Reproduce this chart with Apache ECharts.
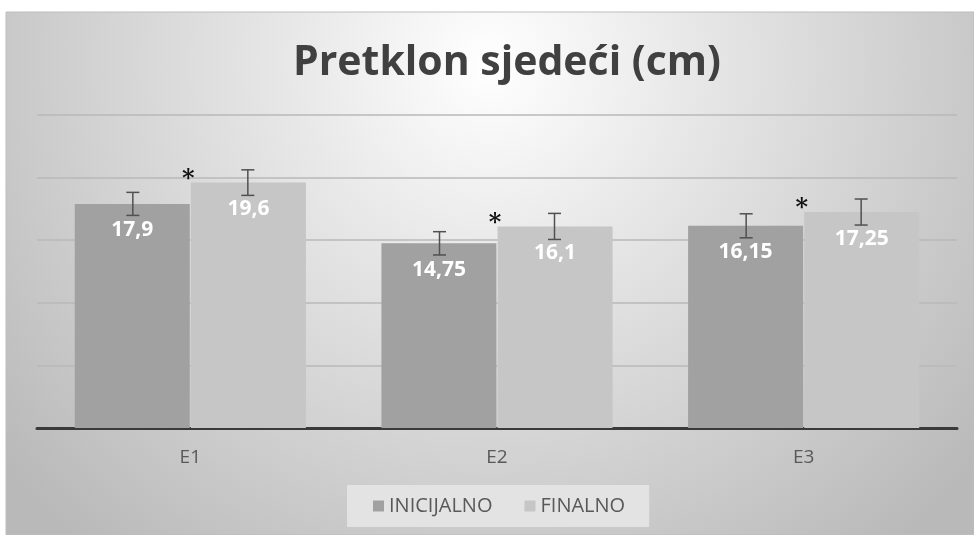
<!DOCTYPE html>
<html>
<head>
<meta charset="utf-8">
<script src="https://cdn.jsdelivr.net/npm/echarts@6/dist/echarts.min.js"></script>
<style>
html,body{margin:0;padding:0;background:#fff;}
#c{width:974px;height:535px;}
</style>
</head>
<body>
<div id="c"></div>
<script>
const titleText = 'Pretklon sjedeći (cm)';
const categories = ['E1', 'E2', 'E3'];
const seriesNames = ['INICIJALNO', 'FINALNO'];
const inicijalno = [17.9, 14.75, 16.15];
const finalno = [19.6, 16.1, 17.25];
const sdInicijalno = [0.92, 0.93, 0.96];
const sdFinalno = [1.02, 1.04, 1.04];
const significantFinal = [true, true, true];
const yTicks = [0, 5, 10, 15, 20, 25];

const chart = echarts.init(document.getElementById('c'));
const fontFam = '"Open Sans", "Noto Sans", sans-serif';

function errData(vals, sds, side, stars) {
  return vals.map((v, i) => [i, v, sds[i], side, stars ? (stars[i] ? 1 : 0) : 0]);
}

function renderErr(params, api) {
  const idx = api.value(0);
  const val = api.value(1);
  const sd = api.value(2);
  const side = api.value(3);
  const star = api.value(4);
  const band = api.size([1, 0])[0];
  const c = api.coord([idx, val]);
  const x = c[0] + side * band * 0.1875;
  const yTop = api.coord([idx, val + sd])[1];
  const yBot = api.coord([idx, val - sd])[1];
  const cap = 6.5;
  const st = { stroke: '#505050', lineWidth: 1.5 };
  const children = [
    { type: 'line', shape: { x1: x, y1: yTop, x2: x, y2: yBot }, style: st },
    { type: 'line', shape: { x1: x - cap, y1: yTop, x2: x + cap, y2: yTop }, style: st },
    { type: 'line', shape: { x1: x - cap, y1: yBot, x2: x + cap, y2: yBot }, style: st }
  ];
  if (star) {
    const left = x - band * 0.1875;
    children.push({
      type: 'text',
      style: {
        text: '*', x: left - 2, y: c[1] - 3,
        fill: '#111', font: 'bold 24px "DejaVu Serif", "Liberation Serif", serif',
        align: 'center', verticalAlign: 'middle'
      }
    });
  }
  return { type: 'group', children: children };
}

const labelStyle = {
  show: true, position: 'insideTop', distance: 16,
  color: '#fff', fontWeight: 'bold', fontSize: 21, fontFamily: fontFam,
  formatter: p => String(p.value).replace('.', ',')
};

chart.setOption({
  backgroundColor: '#ffffff',
  animation: false,
  graphic: [{
    type: 'rect', z: -10, silent: true,
    shape: { x: 6, y: 12, width: 968, height: 523 },
    style: {
      fill: {
        type: 'radial', x: 0.5, y: 0.1, r: 1.2,
        colorStops: [
          { offset: 0, color: '#ffffff' },
          { offset: 0.3, color: '#e9e9e9' },
          { offset: 1, color: '#b9b9b9' }
        ]
      },
      stroke: '#bdbdbd', lineWidth: 1
    }
  }],
  title: {
    text: titleText, left: 288, top: 38,
    textStyle: { fontSize: 41, fontWeight: 'bold', color: '#404040', fontFamily: fontFam }
  },
  legend: {
    data: seriesNames, bottom: 8, left: 347,
    itemWidth: 11, itemHeight: 11, itemGap: 32, icon: 'rect',
    padding: [11, 24, 11, 26],
    backgroundColor: '#e3e3e3',
    textStyle: { fontSize: 20, color: '#595959', fontFamily: fontFam }
  },
  grid: { left: 37, right: 17, top: 115, bottom: 107 },
  xAxis: {
    type: 'category', data: categories,
    axisLine: { lineStyle: { color: '#3a3a3a', width: 3 } },
    axisTick: { show: false },
    axisLabel: { fontSize: 19, color: '#595959', margin: 20, fontFamily: fontFam }
  },
  yAxis: {
    type: 'value', min: yTicks[0], max: yTicks[yTicks.length - 1], interval: 5,
    axisLabel: { show: false },
    axisLine: { show: false }, axisTick: { show: false },
    splitLine: { lineStyle: { color: '#b8b8b8', width: 1.5 } }
  },
  series: [
    {
      name: seriesNames[0], type: 'bar', data: inicijalno,
      barWidth: '37.5%', barGap: '0%',
      itemStyle: { color: '#a1a1a1' }, label: labelStyle
    },
    {
      name: seriesNames[1], type: 'bar', data: finalno,
      barWidth: '37.5%', barGap: '1%',
      itemStyle: { color: '#c6c6c6' }, label: labelStyle
    },
    {
      type: 'custom', name: 'errI', renderItem: renderErr,
      data: errData(inicijalno, sdInicijalno, -1, null), z: 5
    },
    {
      type: 'custom', name: 'errF', renderItem: renderErr,
      data: errData(finalno, sdFinalno, 1, significantFinal), z: 5
    }
  ]
});
</script>
</body>
</html>
